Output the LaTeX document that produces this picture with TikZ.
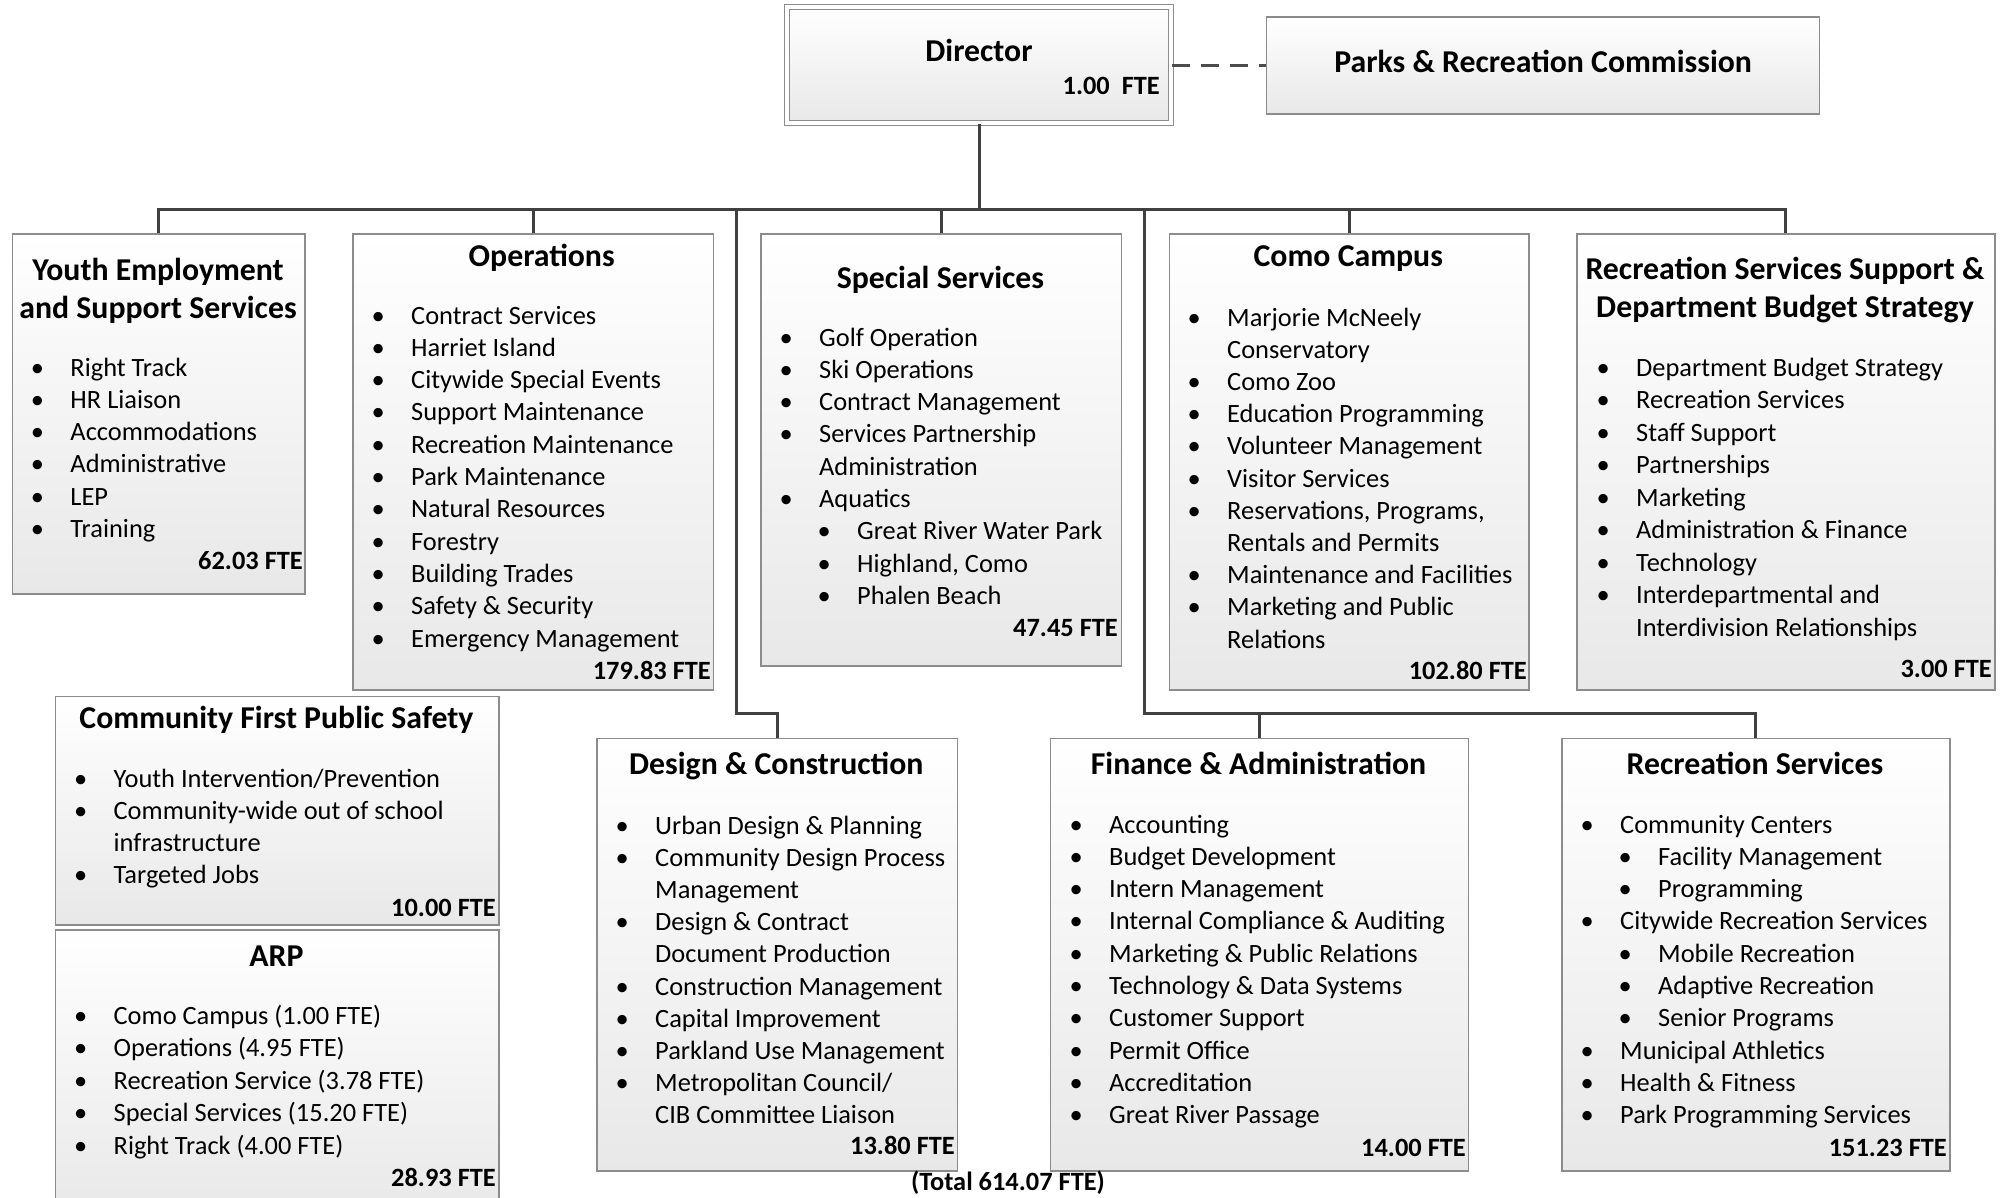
\documentclass[tikz,border=0pt]{standalone}
\usepackage{fontspec}
\setmainfont{Carlito}
\newcommand\bul{\llap{\makebox[0pt][c]{\textbullet}\hspace{33pt}}}
\newcommand\subbul{\hspace*{38pt}\bul}
\begin{document}
\begin{tikzpicture}[x=1pt, y=-1pt, every node/.style={inner sep=0pt}]

\tikzset{
    unit/.style={draw=black!45, line width=1.5pt, top color=white, bottom color=black!9, anchor=north west},
    link/.style={draw=black!75, line width=3pt},
    dashlink/.style={draw=black!70, line width=3pt, dash pattern=on 18pt off 11pt},
    head/.style={font=\fontsize{31.8pt}{38pt}\selectfont\bfseries, align=center, anchor=base},
    item/.style={font=\fontsize{26.4pt}{32.3pt}\selectfont, anchor=base west},
    fte/.style={font=\fontsize{26.4pt}{32.3pt}\selectfont\bfseries, anchor=base east}
}

\useasboundingbox (0,0) rectangle (2007,1198);

% top
\node[unit, anchor=center, minimum width=384pt, minimum height=116pt, double=white, double distance=3.5pt] (dir) at (979,65.2) {};
\node[unit, anchor=center, minimum width=553pt, minimum height=97pt] (com) at (1543.2,65.5) {};
\node[head] (dir-t) at (979,62) {Director};
\node[fte] (dir-f) at (1160,95) {1.00\ \ FTE};
\node[head] (com-t) at (1543.2,73) {Parks \& Recreation Commission};

% divisions
\node[unit, minimum width=292.8pt, minimum height=360pt] (youth) at (11.6,233.3) {};
\node[unit, minimum width=360.5pt, minimum height=456pt] (ops) at (352,233.3) {};
\node[unit, minimum width=360.2pt, minimum height=431.7pt] (spec) at (760.4,233.3) {};
\node[unit, minimum width=359.4pt, minimum height=455.7pt] (como) at (1168.6,233.3) {};
\node[unit, minimum width=418pt, minimum height=455.7pt] (rsup) at (1576,233.3) {};
\node[unit, minimum width=443.2pt, minimum height=228.5pt] (cfps) at (54.8,695.5) {};
\node[unit, minimum width=443.2pt, minimum height=290pt] (arp) at (54.8,929) {};
\node[unit, minimum width=360.6pt, minimum height=432.3pt] (dc) at (596,737.7) {};
\node[unit, minimum width=418.1pt, minimum height=432.3pt] (fin) at (1049.5,737.7) {};
\node[unit, minimum width=388pt, minimum height=432.3pt] (rec) at (1561,737.7) {};

% connectors
\coordinate (bus) at (0,209.5);
\coordinate (bus2) at (0,713);
\coordinate (ltrunk) at (736.8,209.5);
\coordinate (rtrunk) at (1144,209.5);
\draw[link] (dir.south) -- (dir.south |- bus);
\draw[link] (youth.north) |- (rsup.north |- bus) -- (rsup.north);
\foreach \n in {ops,spec,como} {
    \draw[link] (\n.north) -- (\n.north |- bus);
}
\draw[link] (ltrunk) |- (dc.north |- bus2) -- (dc.north);
\draw[link] (rtrunk) |- (rec.north |- bus2) -- (rec.north);
\draw[link] (fin.north) -- (fin.north |- bus2);
\draw[dashlink] (dir.east) -- (dir.east -| com.west);

% titles (two-line ones sit on their last line)
\node[head] (youth-t) at (158,318.5) {Youth Employment\\and Support Services};
\node[head] (ops-t) at (541.7,266) {Operations};
\node[head] (spec-t) at (940.5,288) {Special Services};
\node[head] (como-t) at (1348.3,266) {Como Campus};
\node[head] (rsup-t) at (1785,317) {Recreation Services Support \&\\Department Budget Strategy};
\node[head] (cfps-t) at (276.4,728) {Community First Public Safety};
\node[head] (arp-t) at (276.4,966) {ARP};
\node[head] (dc-t) at (776.3,774.5) {Design \& Construction};
\node[head] (fin-t) at (1258.5,774.5) {Finance \& Administration};
\node[head] (rec-t) at (1755,774.5) {Recreation Services};

% lists
\foreach \t [count=\i from 0] in {\bul Right Track, \bul HR Liaison, \bul Accommodations, \bul Administrative, \bul LEP, \bul Training} {
    \node[item] (youth-\i) at (70.3,{376+32.3*\i}) {\t};
}
\foreach \t [count=\i from 0] in {Contract Services, Harriet Island, Citywide Special Events, Support Maintenance, Recreation Maintenance, Park Maintenance, Natural Resources, Forestry, Building Trades, Safety \& Security, Emergency Management} {
    \node[item] (ops-\i) at (411,{324+32.3*\i}) {\bul\t};
}
\foreach \t [count=\i from 0] in {\bul Golf Operation, \bul Ski Operations, \bul Contract Management, \bul Services Partnership, Administration, \bul Aquatics, \subbul Great River Water Park, {\subbul Highland, Como}, \subbul Phalen Beach} {
    \node[item] (spec-\i) at (819,{346+32.3*\i}) {\t};
}
\foreach \t [count=\i from 0] in {\bul Marjorie McNeely, Conservatory, \bul Como Zoo, \bul Education Programming, \bul Volunteer Management, \bul Visitor Services, {\bul Reservations, Programs,}, Rentals and Permits, \bul Maintenance and Facilities, \bul Marketing and Public, Relations} {
    \node[item] (como-\i) at (1227,{326+32.2*\i}) {\t};
}
\foreach \t [count=\i from 0] in {\bul Department Budget Strategy, \bul Recreation Services, \bul Staff Support, \bul Partnerships, \bul Marketing, \bul Administration \& Finance, \bul Technology, \bul Interdepartmental and, Interdivision Relationships} {
    \node[item] (rsup-\i) at (1636,{376+32.5*\i}) {\t};
}
\foreach \t [count=\i from 0] in {\bul Youth Intervention/Prevention, \bul Community-wide out of school, infrastructure, \bul Targeted Jobs} {
    \node[item] (cfps-\i) at (113.5,{787+32*\i}) {\t};
}
\foreach \t [count=\i from 0] in {Como Campus (1.00 FTE), Operations (4.95 FTE), Recreation Service (3.78 FTE), Special Services (15.20 FTE), Right Track (4.00 FTE)} {
    \node[item] (arp-\i) at (113.5,{1024+32.5*\i}) {\bul\t};
}
\foreach \t [count=\i from 0] in {\bul Urban Design \& Planning, \bul Community Design Process, Management, \bul Design \& Contract, Document Production, \bul Construction Management, \bul Capital Improvement, \bul Parkland Use Management, \bul Metropolitan Council/, CIB Committee Liaison} {
    \node[item] (dc-\i) at (655,{834+32.2*\i}) {\t};
}
\foreach \t [count=\i from 0] in {Accounting, Budget Development, Intern Management, Internal Compliance \& Auditing, Marketing \& Public Relations, Technology \& Data Systems, Customer Support, Permit Office, Accreditation, Great River Passage} {
    \node[item] (fin-\i) at (1109,{833+32.3*\i}) {\bul\t};
}
\foreach \t [count=\i from 0] in {\bul Community Centers, \subbul Facility Management, \subbul Programming, \bul Citywide Recreation Services, \subbul Mobile Recreation, \subbul Adaptive Recreation, \subbul Senior Programs, \bul Municipal Athletics, \bul Health \& Fitness, \bul Park Programming Services} {
    \node[item] (rec-\i) at (1620,{833+32.3*\i}) {\t};
}

% FTE totals
\node[fte] (youth-f) at (303,569) {62.03 FTE};
\node[fte] (ops-f) at (711,679) {179.83 FTE};
\node[fte] (spec-f) at (1118,636) {47.45 FTE};
\node[fte] (como-f) at (1527,679) {102.80 FTE};
\node[fte] (rsup-f) at (1992,677) {3.00 FTE};
\node[fte] (cfps-f) at (496,916) {10.00 FTE};
\node[fte] (arp-f) at (496,1186) {28.93 FTE};
\node[fte] (dc-f) at (955,1154) {13.80 FTE};
\node[fte] (fin-f) at (1466,1156) {14.00 FTE};
\node[fte] (rec-f) at (1947,1156) {151.23 FTE};
\node[fte, anchor=base] (total) at (1008,1190) {(Total 614.07 FTE)};

\end{tikzpicture}
\end{document}
